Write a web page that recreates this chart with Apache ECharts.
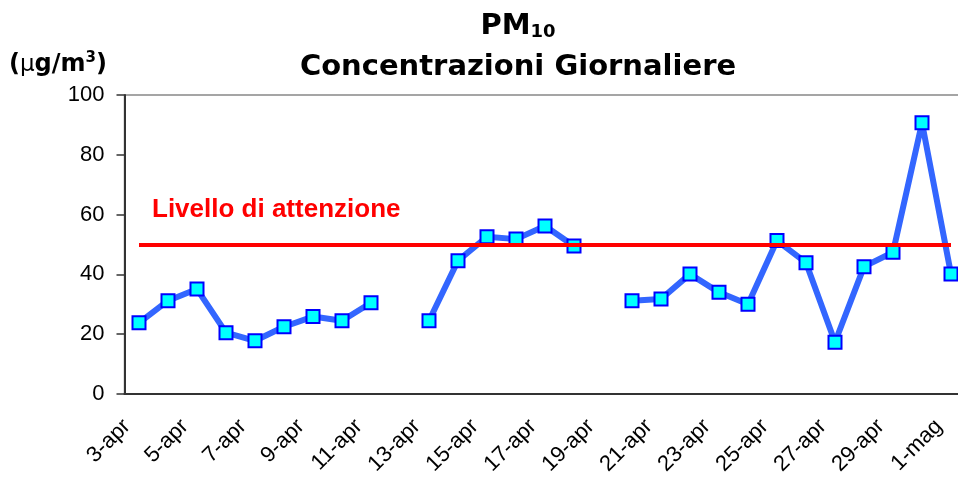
<!DOCTYPE html>
<html>
<head>
<meta charset="utf-8">
<script src="https://cdn.jsdelivr.net/npm/echarts@6/dist/echarts.min.js"></script>
<style>
  html, body { margin: 0; padding: 0; background: #fff; }
  #grafico { width: 958px; height: 477px; }
</style>
</head>
<body>
<div id="grafico"></div>
<script type="text/javascript">
// giorni (3 aprile - 1 maggio)
var giorni = ['3-apr', '4-apr', '5-apr', '6-apr', '7-apr', '8-apr', '9-apr', '10-apr', '11-apr', '12-apr',
  '13-apr', '14-apr', '15-apr', '16-apr', '17-apr', '18-apr', '19-apr', '20-apr', '21-apr', '22-apr',
  '23-apr', '24-apr', '25-apr', '26-apr', '27-apr', '28-apr', '29-apr', '30-apr', '1-mag'];
// PM10 giornaliero (µg/m3), null = dato mancante
var pm10 = [23.8, 31.2, 35.1, 20.5, 17.8, 22.5, 25.9, 24.5, 30.5, null,
  24.5, 44.6, 52.6, 51.8, 56.2, 49.5, null, 31.2, 31.8, 40.1,
  34.0, 30.0, 51.3, 43.9, 17.3, 42.6, 47.4, 90.7, 40.1];
// livello di attenzione
var soglia = 50;
var yTicks = [0, 20, 40, 60, 80, 100];

var myChart = echarts.init(document.getElementById('grafico'));
var option = {
  backgroundColor: '#fff',
  animation: false,
  title: {
    text: '{b|PM}{s|10}\n{b|Concentrazioni Giornaliere}',
    left: 513,
    top: 1,
    textAlign: 'center',
    textStyle: {
      rich: {
        b: { fontFamily: 'DejaVu Sans', fontWeight: 'bold', fontSize: 29, color: '#000', lineHeight: 41 },
        s: { fontFamily: 'DejaVu Sans', fontWeight: 'bold', fontSize: 18, color: '#000', lineHeight: 41, padding: [12, 0, 0, 0] }
      }
    }
  },
  graphic: [
    {
      type: 'text', left: 9, top: 51,
      style: {
        text: '({m|μ}g/m{p|3})',
        fontFamily: 'DejaVu Sans', fontWeight: 'bold', fontSize: 24, fill: '#000',
        rich: {
          m: { fontFamily: 'DejaVu Sans', fontWeight: 'normal', fontSize: 23 },
          p: { fontFamily: 'DejaVu Sans', fontWeight: 'bold', fontSize: 15, padding: [0, 0, 13, 0] }
        }
      }
    },
    {
      type: 'text', left: 152, top: 197,
      style: {
        text: 'Livello di attenzione',
        fontFamily: 'Liberation Sans', fontWeight: 'bold', fontSize: 26, fill: '#ff0000'
      }
    }
  ],
  grid: {
    left: 124.5, right: -7.5, top: 95, bottom: 83,
    outerBoundsMode: 'none', containLabel: false,
    show: true, borderColor: '#888', borderWidth: 1.5
  },
  xAxis: {
    type: 'category',
    data: giorni,
    boundaryGap: true,
    axisLine: { lineStyle: { color: '#333', width: 2 } },
    axisTick: { interval: 1, length: 7, lineStyle: { color: '#333', width: 1.5 } },
    axisLabel: {
      interval: 1, rotate: 45, margin: 17, padding: [0, 17, 0, 0],
      fontFamily: 'Liberation Sans', fontSize: 22, color: '#000'
    }
  },
  yAxis: {
    type: 'value',
    min: yTicks[0], max: yTicks[yTicks.length - 1], interval: 20,
    axisLine: { show: true, lineStyle: { color: '#333', width: 2 } },
    axisTick: { show: true, length: 8, lineStyle: { color: '#333', width: 1.5 } },
    axisLabel: { margin: 20, fontFamily: 'Liberation Sans', fontSize: 22, color: '#000' },
    splitLine: { show: false }
  },
  series: [
    {
      name: 'Livello di attenzione',
      type: 'line',
      data: [],
      z: 1,
      markLine: {
        silent: true,
        symbol: 'none',
        label: { show: false },
        lineStyle: { color: '#ff0000', width: 4, type: 'solid' },
        data: [[{ coord: [giorni[0], soglia] }, { coord: [giorni[giorni.length - 1], soglia] }]]
      }
    },
    {
      name: 'PM10',
      type: 'line',
      data: pm10,
      z: 3,
      connectNulls: false,
      symbol: 'rect',
      symbolSize: 13,
      lineStyle: { color: '#3366ff', width: 6 },
      itemStyle: { color: '#00ffff', borderColor: '#0000ff', borderWidth: 2 }
    }
  ]
};
myChart.setOption(option);
</script>
</body>
</html>
